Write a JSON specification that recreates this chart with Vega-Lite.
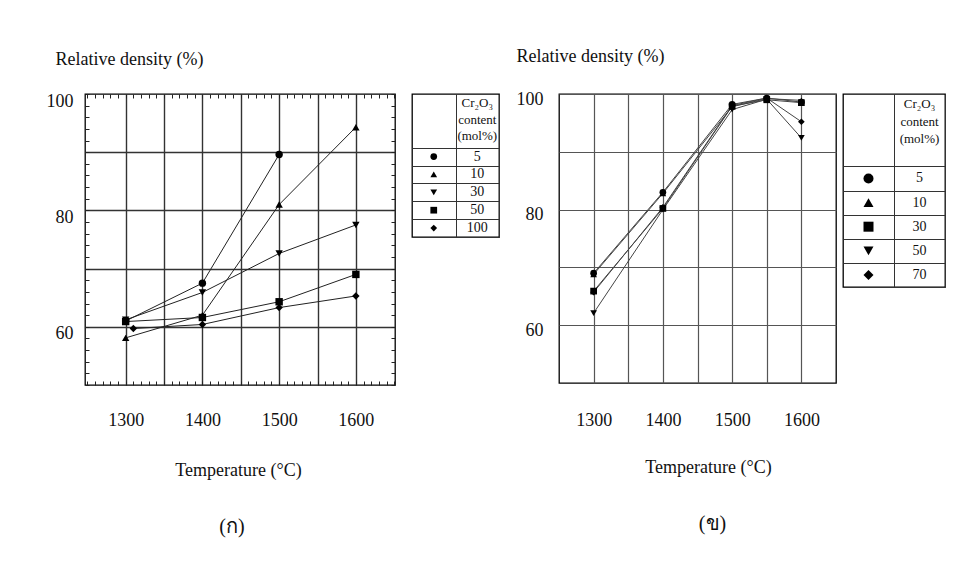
{
  "$schema": "https://vega.github.io/schema/vega-lite/v6.json",
  "padding": {"left": 45, "top": 46, "right": 5, "bottom": 5},
  "background": "white",
  "config": {
    "font": "Liberation Serif",
    "view": {"stroke": "black", "strokeWidth": 1.3},
    "axis": {"labelFont": "Liberation Serif", "titleFont": "Liberation Serif", "labelColor": "#111", "titleColor": "#111"},
    "title": {"font": "Liberation Serif", "color": "#111"}
  },
  "datasets": {
    "a": [
      {"series": "5", "temperature": 1300, "density": 61.0},
      {"series": "5", "temperature": 1400, "density": 67.5},
      {"series": "5", "temperature": 1500, "density": 89.6},
      {"series": "10", "temperature": 1300, "density": 58.1},
      {"series": "10", "temperature": 1400, "density": 62.0},
      {"series": "10", "temperature": 1500, "density": 81.0},
      {"series": "10", "temperature": 1600, "density": 94.3},
      {"series": "30", "temperature": 1300, "density": 61.2},
      {"series": "30", "temperature": 1400, "density": 65.9},
      {"series": "30", "temperature": 1500, "density": 72.6},
      {"series": "30", "temperature": 1600, "density": 77.5},
      {"series": "50", "temperature": 1300, "density": 60.9},
      {"series": "50", "temperature": 1400, "density": 61.6},
      {"series": "50", "temperature": 1500, "density": 64.3},
      {"series": "50", "temperature": 1600, "density": 69.0},
      {"series": "100", "temperature": 1310, "density": 59.7},
      {"series": "100", "temperature": 1400, "density": 60.4},
      {"series": "100", "temperature": 1500, "density": 63.3},
      {"series": "100", "temperature": 1600, "density": 65.3}
    ],
    "b": [
      {"series": "5", "temperature": 1300, "density": 69.0},
      {"series": "5", "temperature": 1400, "density": 83.0},
      {"series": "5", "temperature": 1500, "density": 98.2},
      {"series": "5", "temperature": 1550, "density": 99.3},
      {"series": "5", "temperature": 1600, "density": 98.6},
      {"series": "10", "temperature": 1300, "density": 68.8},
      {"series": "10", "temperature": 1400, "density": 82.8},
      {"series": "10", "temperature": 1500, "density": 97.8},
      {"series": "10", "temperature": 1550, "density": 99.2},
      {"series": "10", "temperature": 1600, "density": 98.9},
      {"series": "30", "temperature": 1300, "density": 65.9},
      {"series": "30", "temperature": 1400, "density": 80.2},
      {"series": "30", "temperature": 1500, "density": 97.9},
      {"series": "30", "temperature": 1550, "density": 99.0},
      {"series": "30", "temperature": 1600, "density": 98.5},
      {"series": "50", "temperature": 1300, "density": 62.1},
      {"series": "50", "temperature": 1400, "density": 80.0},
      {"series": "50", "temperature": 1500, "density": 97.3},
      {"series": "50", "temperature": 1550, "density": 99.1},
      {"series": "50", "temperature": 1600, "density": 92.4},
      {"series": "70", "temperature": 1300, "density": 65.7},
      {"series": "70", "temperature": 1400, "density": 80.4},
      {"series": "70", "temperature": 1500, "density": 98.0},
      {"series": "70", "temperature": 1550, "density": 99.3},
      {"series": "70", "temperature": 1600, "density": 95.2}
    ],
    "ta": [
      {"row": "Cr₂O₃", "text": "Cr₂O₃\ncontent\n(mol%)"},
      {"row": "5", "series": "5", "text": "5"},
      {"row": "10", "series": "10", "text": "10"},
      {"row": "30", "series": "30", "text": "30"},
      {"row": "50", "series": "50", "text": "50"},
      {"row": "100", "series": "100", "text": "100"}
    ],
    "tb": [
      {"row": "Cr₂O₃", "text": "Cr₂O₃\ncontent\n(mol%)"},
      {"row": "5", "series": "5", "text": "5"},
      {"row": "10", "series": "10", "text": "10"},
      {"row": "30", "series": "30", "text": "30"},
      {"row": "50", "series": "50", "text": "50"},
      {"row": "70", "series": "70", "text": "70"}
    ]
  },
  "resolve": {"scale": {"shape": "independent"}},
  "spacing": 15,
  "hconcat": [
    {
      "spacing": 14,
      "resolve": {"scale": {"shape": "independent"}},
      "hconcat": [
        {
          "width": 310,
          "height": 291,
          "title": {"text": "(ก)", "orient": "bottom", "anchor": "middle", "frame": "group", "fontSize": 20, "fontWeight": "normal", "offset": 38, "dx": -8},
          "data": {"name": "a"},
          "resolve": {"axis": {"x": "independent", "y": "independent"}},
          "layer": [
            {
              "mark": {"type": "point", "opacity": 0},
              "encoding": {
                "x": {"field": "temperature", "type": "quantitative", "scale": {"domain": [1247, 1651], "nice": false, "zero": false},
                  "axis": {"orient": "top", "values": [1300, 1350, 1400, 1450, 1500, 1550, 1600], "grid": true, "gridColor": "#333", "gridWidth": 1.4, "ticks": false, "labels": false, "domain": false, "title": null}},
                "y": {"field": "density", "type": "quantitative", "scale": {"domain": [50, 100], "nice": false, "zero": false},
                  "axis": {"orient": "right", "values": [60, 70, 80, 90], "grid": true, "gridColor": "#333", "gridWidth": 1.4, "ticks": false, "labels": false, "domain": false, "title": null}}
              }
            },
            {
              "mark": {"type": "line", "color": "#222", "strokeWidth": 1},
              "encoding": {
                "detail": {"field": "series"},
                "x": {"field": "temperature", "type": "quantitative",
                  "axis": {"orient": "bottom", "values": [1250, 1260, 1270, 1280, 1290, 1300, 1310, 1320, 1330, 1340, 1350, 1360, 1370, 1380, 1390, 1400, 1410, 1420, 1430, 1440, 1450, 1460, 1470, 1480, 1490, 1500, 1510, 1520, 1530, 1540, 1550, 1560, 1570, 1580, 1590, 1600, 1610, 1620, 1630, 1640, 1650],
                    "format": "d", "labelExpr": "datum.value % 100 === 0 && datum.value > 1250 ? datum.label : ''", "labelOverlap": false,
                    "tickSize": -4, "tickColor": "#222", "tickWidth": 1, "domain": false, "grid": false, "labelPadding": 30.5, "labelFontSize": 18,
                    "title": "Temperature (°C)", "titleFontSize": 18, "titleFontWeight": "normal", "titleX": 153, "titleY": 85, "titleBaseline": "middle", "titleAlign": "center"}},
                "y": {"field": "density", "type": "quantitative",
                  "axis": {"orient": "left", "values": [50, 52, 54, 56, 58, 60, 62, 64, 66, 68, 70, 72, 74, 76, 78, 80, 82, 84, 86, 88, 90, 92, 94, 96, 98, 100],
                    "labelExpr": "datum.value === 60 || datum.value === 80 || datum.value === 100 ? datum.label : ''", "labelOverlap": false,
                    "tickSize": -4, "tickColor": "#222", "tickWidth": 1, "domain": false, "grid": false, "labelPadding": 16, "labelOffset": 7, "labelFontSize": 18,
                    "title": "Relative density (%)", "titleFontSize": 18, "titleFontWeight": "normal", "titleAngle": 0, "titleAlign": "left", "titleBaseline": "middle", "titleX": -30, "titleY": -35}}
              }
            },
            {
              "mark": {"type": "point", "filled": true, "color": "black", "size": 55, "opacity": 1},
              "encoding": {
                "shape": {"field": "series", "type": "nominal", "scale": {"domain": ["5", "10", "30", "50", "100"], "range": ["circle", "triangle-up", "triangle-down", "square", "diamond"]}, "legend": null},
                "x": {"field": "temperature", "type": "quantitative",
                  "axis": {"orient": "top", "values": [1250, 1260, 1270, 1280, 1290, 1300, 1310, 1320, 1330, 1340, 1350, 1360, 1370, 1380, 1390, 1400, 1410, 1420, 1430, 1440, 1450, 1460, 1470, 1480, 1490, 1500, 1510, 1520, 1530, 1540, 1550, 1560, 1570, 1580, 1590, 1600, 1610, 1620, 1630, 1640, 1650],
                    "labels": false, "tickSize": -4, "tickColor": "#222", "domain": false, "grid": false, "title": null}},
                "y": {"field": "density", "type": "quantitative",
                  "axis": {"orient": "right", "values": [50, 52, 54, 56, 58, 60, 62, 64, 66, 68, 70, 72, 74, 76, 78, 80, 82, 84, 86, 88, 90, 92, 94, 96, 98, 100],
                    "labels": false, "tickSize": -4, "tickColor": "#222", "domain": false, "grid": false, "title": null}}
              }
            }
          ]
        },
        {
          "width": 87,
          "height": 143,
          "data": {"name": "ta"},
          "layer": [
            {
              "transform": [{"filter": "!isValid(datum.series)"}],
              "mark": {"type": "text", "fontSize": 13, "lineBreak": "\n", "lineHeight": 16.7, "color": "#111"},
              "encoding": {
                "x": {"datum": "label", "type": "nominal", "scale": {"domain": ["symbol", "label"], "paddingInner": 0, "paddingOuter": 0},
                  "axis": {"orient": "top", "values": ["label"], "tickBand": "extent", "grid": true, "gridColor": "#333", "gridWidth": 1, "ticks": false, "labels": false, "domain": false, "title": null}},
                "y": {"field": "row", "type": "nominal", "scale": {"domain": ["Cr₂O₃", "content", "(mol%)", "5", "10", "30", "50", "100"], "paddingInner": 0, "paddingOuter": 0},
                  "axis": {"orient": "left", "values": ["5", "10", "30", "50", "100"], "tickBand": "extent", "grid": true, "gridColor": "#333", "gridWidth": 1, "ticks": false, "labels": false, "domain": false, "title": null}},
                "text": {"field": "text"}
              }
            },
            {
              "transform": [{"filter": "isValid(datum.series)"}],
              "mark": {"type": "text", "fontSize": 14, "color": "#111"},
              "encoding": {
                "x": {"datum": "label", "type": "nominal"},
                "y": {"field": "row", "type": "nominal"},
                "text": {"field": "text"}
              }
            },
            {
              "transform": [{"filter": "isValid(datum.series)"}],
              "mark": {"type": "point", "filled": true, "color": "black", "size": 45, "opacity": 1},
              "encoding": {
                "x": {"datum": "symbol", "type": "nominal"},
                "y": {"field": "row", "type": "nominal"},
                "shape": {"field": "series", "type": "nominal", "scale": {"domain": ["5", "10", "30", "50", "100"], "range": ["circle", "triangle-up", "triangle-down", "square", "diamond"]}, "legend": null}
              }
            }
          ]
        }
      ]
    },
    {
      "spacing": 5,
      "resolve": {"scale": {"shape": "independent"}},
      "hconcat": [
        {
          "width": 277,
          "height": 289,
          "title": {"text": "(ข)", "orient": "bottom", "anchor": "middle", "frame": "group", "fontSize": 20, "fontWeight": "normal", "offset": 38, "dx": 15},
          "data": {"name": "b"},
          "encoding": {
            "x": {"field": "temperature", "type": "quantitative", "scale": {"domain": [1250, 1650], "nice": false, "zero": false},
              "axis": {"values": [1300, 1350, 1400, 1450, 1500, 1550, 1600], "format": "d", "labelExpr": "datum.value % 100 === 0 ? datum.label : ''", "labelOverlap": false,
                "grid": true, "gridColor": "#555", "gridWidth": 1.2, "ticks": false, "domain": false, "labelPadding": 28, "labelFontSize": 18,
                "title": "Temperature (°C)", "titleFontSize": 18, "titleFontWeight": "normal", "titleX": 149, "titleY": 84, "titleBaseline": "middle", "titleAlign": "center"}},
            "y": {"field": "density", "type": "quantitative", "scale": {"domain": [50, 100], "nice": false, "zero": false},
              "axis": {"values": [60, 70, 80, 90, 100], "labelExpr": "datum.value === 60 || datum.value === 80 || datum.value === 100 ? datum.label : ''", "labelOverlap": false,
                "grid": true, "gridColor": "#555", "gridWidth": 1.2, "ticks": false, "domain": false, "labelPadding": 16, "labelOffset": 5, "labelFontSize": 18,
                "title": "Relative density (%)", "titleFontSize": 18, "titleFontWeight": "normal", "titleAngle": 0, "titleAlign": "left", "titleBaseline": "middle", "titleX": -43, "titleY": -38}}
          },
          "layer": [
            {
              "mark": {"type": "line", "color": "#444", "strokeWidth": 1},
              "encoding": {"detail": {"field": "series"}}
            },
            {
              "mark": {"type": "point", "filled": true, "color": "black", "size": 45, "opacity": 1},
              "encoding": {
                "shape": {"field": "series", "type": "nominal", "scale": {"domain": ["5", "10", "30", "50", "70"], "range": ["circle", "triangle-up", "square", "triangle-down", "diamond"]}, "legend": null}
              }
            }
          ]
        },
        {
          "width": 102,
          "height": 193,
          "data": {"name": "tb"},
          "layer": [
            {
              "transform": [{"filter": "!isValid(datum.series)"}],
              "mark": {"type": "text", "fontSize": 13, "lineBreak": "\n", "lineHeight": 17.5, "dy": -2, "color": "#111"},
              "encoding": {
                "x": {"datum": "label", "type": "nominal", "scale": {"domain": ["symbol", "label"], "paddingInner": 0, "paddingOuter": 0},
                  "axis": {"orient": "top", "values": ["label"], "tickBand": "extent", "grid": true, "gridColor": "#333", "gridWidth": 1, "ticks": false, "labels": false, "domain": false, "title": null}},
                "y": {"field": "row", "type": "nominal", "scale": {"domain": ["Cr₂O₃", "content", "(mol%)", "5", "10", "30", "50", "70"], "paddingInner": 0, "paddingOuter": 0},
                  "axis": {"orient": "left", "values": ["5", "10", "30", "50", "70"], "tickBand": "extent", "grid": true, "gridColor": "#333", "gridWidth": 1, "ticks": false, "labels": false, "domain": false, "title": null}},
                "text": {"field": "text"}
              }
            },
            {
              "transform": [{"filter": "isValid(datum.series)"}],
              "mark": {"type": "text", "fontSize": 14, "color": "#111"},
              "encoding": {
                "x": {"datum": "label", "type": "nominal"},
                "y": {"field": "row", "type": "nominal"},
                "text": {"field": "text"}
              }
            },
            {
              "transform": [{"filter": "isValid(datum.series)"}],
              "mark": {"type": "point", "filled": true, "color": "black", "size": 100, "opacity": 1},
              "encoding": {
                "x": {"datum": "symbol", "type": "nominal"},
                "y": {"field": "row", "type": "nominal"},
                "shape": {"field": "series", "type": "nominal", "scale": {"domain": ["5", "10", "30", "50", "70"], "range": ["circle", "triangle-up", "square", "triangle-down", "diamond"]}, "legend": null}
              }
            }
          ]
        }
      ]
    }
  ]
}
